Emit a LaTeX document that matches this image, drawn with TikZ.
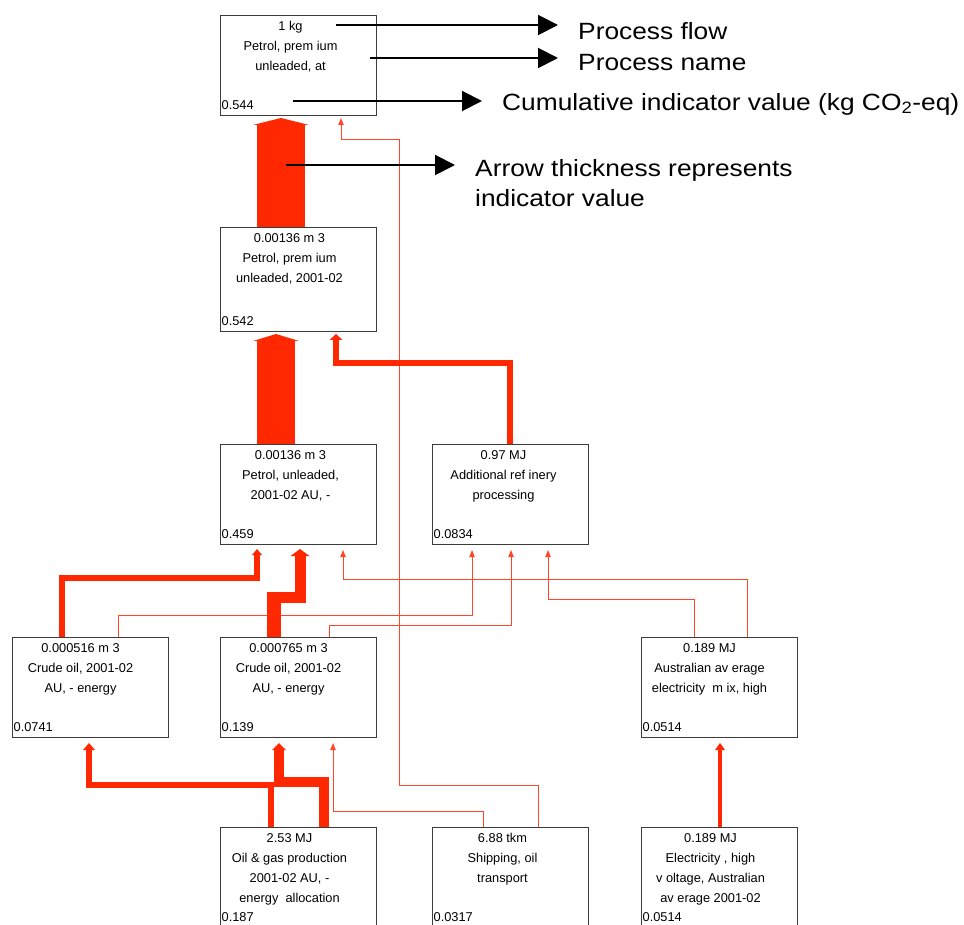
\documentclass[tikz,border=0pt]{standalone}
\usepackage{fontspec}
\usepackage{graphicx}
\setmainfont{Liberation Sans}
\usetikzlibrary{calc,arrows.meta}

\definecolor{flowred}{RGB}{255,40,0}
\definecolor{minorred}{RGB}{255,70,40}
\definecolor{boxgray}{RGB}{60,60,60}

% a process box: name, left, top, height, text shift, lines, cumulative value
\newcommand\procbox[7]{%
  \node[procbox,minimum height=#4pt] (#1) at (#2,#3) {};
  \node[proctext] (#1-t) at ($(#1.north)+(#5,6.5)$) {#6};
  \node[procval] (#1-v) at ($(#1.south west)+(1.5,-11)$) {#7};
}

% thick flow: width, head half-width, head length, path up to last bend, tip
\newcommand\flowarrow[5]{%
  \draw[flow=#1pt,shorten >=#3pt-0.6pt] #4 -- (#5);
  \fill[flowred] (#5) -- ++(-#2,#3) -- ++(2*#2,0) -- cycle;
}

% thin flow: path up to last bend, tip
\newcommand\minorarrow[2]{%
  \draw[minorflow,shorten >=6pt] #1 -- (#2);
  \fill[minorred] (#2) -- ++(-2.8,7) -- ++(5.6,0) -- cycle;
}

\newcommand\wide[1]{\scalebox{1.12}[1]{#1}}

\begin{document}
\begin{tikzpicture}[x=1pt,y=-1pt,
  procbox/.style={draw=boxgray,line width=1pt,minimum width=156pt,
    inner sep=0pt,anchor=north west},
  proctext/.style={font=\fontsize{12.8}{20}\selectfont,align=center,
    inner sep=0pt,anchor=north},
  procval/.style={font=\fontsize{12.8}{15}\selectfont,inner sep=0pt,anchor=west},
  flow/.style={draw=flowred,line width=#1,line cap=butt,line join=miter},
  minorflow/.style={draw=minorred,line width=1pt,line cap=butt,line join=miter},
  legarrow/.style={draw=black,line width=2pt,-{Triangle[width=20pt,length=20pt]}},
  legtext/.style={font=\fontsize{23.5}{30}\selectfont,align=left,
    inner sep=0pt,anchor=west}
]
\useasboundingbox (0,0) rectangle (964,925);
\fill[white] (0,0) rectangle (964,925);

% process boxes
\procbox{b1}{220}{15}{100}{-8}{1 kg\\Petrol, prem ium\\unleaded, at}{0.544}
\procbox{b2}{220}{227}{104}{-9}{0.00136 m 3\\Petrol, prem ium\\unleaded, 2001-02}{0.542}
\procbox{b3}{220}{444}{100}{-8}{0.00136 m 3\\Petrol, unleaded,\\2001-02 AU, -}{0.459}
\procbox{b4}{432}{444}{100}{-7}{0.97 MJ\\Additional ref inery\\processing}{0.0834}
\procbox{b5}{12}{637}{100}{-10}{0.000516 m 3\\Crude oil, 2001-02\\AU, - energy}{0.0741}
\procbox{b6}{220}{637}{100}{-10}{0.000765 m 3\\Crude oil, 2001-02\\AU, - energy}{0.139}
\procbox{b7}{641}{637}{100}{-10}{0.189 MJ\\Australian av erage\\electricity \ m ix, high}{0.0514}
\procbox{b8}{220}{827}{100}{-9}{2.53 MJ\\Oil \& gas production\\2001-02 AU, -\\energy \ allocation}{0.187}
\procbox{b9}{432}{827}{100}{-8}{6.88 tkm\\Shipping, oil\\transport}{0.0317}
\procbox{b10}{641}{827}{100}{-9}{0.189 MJ\\Electricity , high\\v oltage, Australian\\av erage 2001-02}{0.0514}

% minor flows
\minorarrow{($(b9.north west)+(106,0)$) -- ++(0,-42) -- ++(-139,0) -- ++(0,-645) -- ++(-58,0)}{$(b1.south west)+(121,2)$}
\minorarrow{($(b6.north west)+(109,0)$) -- ++(0,-12) -- ++(182,0)}{$(b4.south west)+(79,5)$}
\minorarrow{($(b5.north west)+(106,0)$) -- ++(0,-22) -- ++(354,0)}{$(b4.south west)+(40,5)$}
\minorarrow{($(b7.north west)+(106,0)$) -- ++(0,-58) -- ++(-404,0)}{$(b3.south west)+(123,5)$}
\minorarrow{($(b7.north west)+(53,0)$) -- ++(0,-38) -- ++(-146,0)}{$(b4.south west)+(116,5)$}
\minorarrow{($(b9.north west)+(51,0)$) -- ++(0,-16) -- ++(-150,0)}{$(b6.south west)+(113,5)$}

% main flows
\flowarrow{48}{28}{7}{($(b2.north west)+(61,0)$)}{$(b1.south west)+(61,2)$}
\flowarrow{38}{23}{7}{($(b3.north west)+(56,0)$)}{$(b2.south west)+(56,2)$}
\flowarrow{6}{6.5}{6}{($(b4.north west)+(78,0)$) -- ++(0,-81.5) -- ++(-174,0)}{$(b2.south west)+(116,2)$}
\flowarrow{6}{5}{6}{($(b5.north west)+(50,0)$) -- ++(0,-59) -- ++(195,0)}{$(b3.south west)+(37,4)$}
\draw[flow=14pt] ($(b6.north west)+(54,0)$) -- ++(0,-45);
\flowarrow{11}{9.5}{7}{($(b6.north west)+(54,0)$) -- ++(0,-40) -- ++(26,0)}{$(b3.south west)+(80,4)$}
\flowarrow{6}{6}{7}{($(b8.north west)+(51,0)$) -- ++(0,-42) -- ++(-182,0)}{$(b5.south west)+(77,5)$}
\flowarrow{10}{7}{7}{($(b8.north west)+(104,0)$) -- ++(0,-45) -- ++(-45,0)}{$(b6.south west)+(59,5)$}
\flowarrow{4}{5}{7}{($(b10.north west)+(79,0)$)}{$(b7.south west)+(79,5)$}

% legend
\node[legtext] (l1) at (578,31) {\wide{Process flow}};
\node[legtext] (l2) at (578,63) {\wide{Process name}};
\node[legtext] (l3) at (502,104) {\wide{Cumulative indicator value (kg CO\textsubscript{2}-eq)}};
\node[legtext] (l4) at (475,183.5) {\wide{Arrow thickness represents}\\\wide{indicator value}};

\coordinate (p1) at (336,25);   \coordinate (q1) at (558,25);
\coordinate (p2) at (370,58);   \coordinate (q2) at (558,58);
\coordinate (p3) at (293,101);  \coordinate (q3) at (482,101);
\coordinate (p4) at (286,165);  \coordinate (q4) at (455,165);
\draw[legarrow] (p1) -- (q1);
\draw[legarrow] (p2) -- (q2);
\draw[legarrow] (p3) -- (q3);
\draw[legarrow] (p4) -- (q4);
\end{tikzpicture}
\end{document}
